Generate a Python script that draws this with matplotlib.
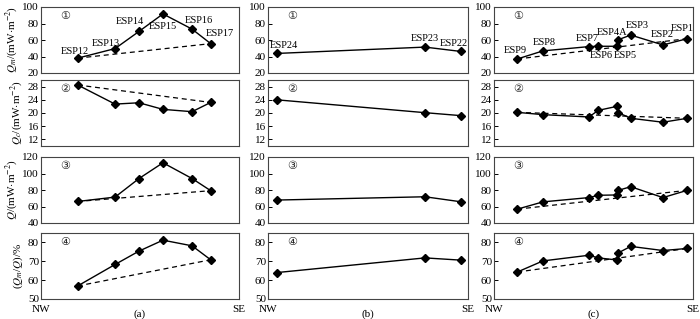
import matplotlib
matplotlib.use("Agg")
import matplotlib.pyplot as plt

plt.rcParams["font.family"] = ["Liberation Serif", "DejaVu Serif", "DejaVu Sans"]
plt.rcParams["mathtext.fontset"] = "stix"

# distance along profile (0 = NW, 100 = SE)
names_a = ["ESP12", "ESP13", "ESP14", "ESP15", "ESP16", "ESP17"]
x_a = [18.5, 37.4, 49.5, 61.6, 76.3, 85.7]
qm_a = [38, 49.6, 70.4, 91.6, 73.2, 55.6]
qc_a = [28.5, 22.7, 23.1, 21.1, 20.4, 23.2]
q_a = [66.1, 71.4, 93.9, 113, 93.9, 79.2]
ratio_a = [56.9, 68.3, 75.4, 81.2, 78.2, 70.8]

names_b = ["ESP24", "ESP23", "ESP22"]
x_b = [4.3, 78.5, 96.5]
qm_b = [43.7, 51.4, 46.1]
qc_b = [24.0, 20.1, 19.2]
q_b = [67.8, 71.8, 65.7]
ratio_b = [64.0, 71.8, 70.6]

names_c = ["ESP9", "ESP8", "ESP7", "ESP6", "ESP5", "ESP4A", "ESP3", "ESP2", "ESP1"]
x_c = [11.7, 24.6, 47.7, 52.4, 61.7, 62.5, 68.7, 84.9, 97.1]
qm_c = [37, 46.8, 52, 52.4, 52.4, 60.4, 66, 54, 61.6]
qc_c = [20.2, 19.5, 18.8, 20.8, 22.0, 20.1, 18.4, 17.2, 18.4]
q_c = [56.8, 65.6, 70.8, 73.6, 74.0, 79.6, 84, 70.8, 79.6]
ratio_c = [64.3, 70.2, 73.2, 71.8, 70.7, 74.5, 77.9, 75.7, 76.8]

# label offsets in pixels (dx, dy) for row 1 station names
off_a = [(-3, 7), (-9, 5), (-9, 10), (0, -12.5), (7, 9), (9, 10.5)]
off_b = [(7, 8), (0, 9), (-7, 8)]
off_c = [(-2, 8.5), (1, 8), (-2, 8.5), (3.5, -9.5), (8.5, -9.5), (-6, 7), (6.5, 10), (-1, 10), (-5, 9.7)]

ylabels = [r"$Q_m$/(mW$\cdot$m$^{-2}$)", r"$Q_c$/(mW$\cdot$m$^{-2}$)",
           r"$Q$/(mW$\cdot$m$^{-2}$)", r"($Q_m$/$Q$)/%"]
ylims = [(20, 100), (10, 30), (40, 120), (50, 85)]
yticks = [[20, 40, 60, 80, 100], [12, 16, 20, 24, 28], [40, 60, 80, 100, 120], [50, 60, 70, 80]]
circled = ["①", "②", "③", "④"]

columns = [
    (names_a, x_a, [qm_a, qc_a, q_a, ratio_a], off_a, True, "(a)"),
    (names_b, x_b, [qm_b, qc_b, q_b, ratio_b], off_b, False, "(b)"),
    (names_c, x_c, [qm_c, qc_c, q_c, ratio_c], off_c, True, "(c)"),
]

W, H = 700, 319
fig = plt.figure(figsize=(W / 100, H / 100), dpi=100)

col_left = [41, 268, 494]
col_width = [198, 200, 199]
row_top = [7, 80, 157, 233]
row_h = 66
px = 0.72  # points per pixel at dpi 100

for ci, (names, xs, series, offs, trend, tag) in enumerate(columns):
    for ri in range(4):
        rect = [col_left[ci] / W, 1 - (row_top[ri] + row_h) / H, col_width[ci] / W, row_h / H]
        ax = fig.add_axes(rect)
        ys = series[ri]
        if trend:
            ax.plot([xs[0], xs[-1]], [ys[0], ys[-1]], color="black", lw=0.9, ls=(0, (4, 3)))
        ax.plot(xs, ys, color="black", lw=1.0, marker="D", ms=4.5, mfc="black", mec="black")
        ax.set_xlim(0, 100)
        ax.set_ylim(*ylims[ri])
        ax.set_yticks(yticks[ri])
        ax.tick_params(axis="y", direction="in", length=3, width=0.7, labelsize=8, pad=1.5)
        for s in ax.spines.values():
            s.set_color("#444444")
            s.set_linewidth(0.8)
        ax.text(0.12, 0.87, circled[ri], transform=ax.transAxes, ha="center", va="center",
                fontsize=8, family=["DejaVu Sans"], color="#222222")
        if ri == 3:
            ax.set_xticks([0, 100])
            ax.set_xticklabels(["NW", "SE"], fontsize=8)
            ax.tick_params(axis="x", length=0, pad=4)
            ax.text(0.5, -0.23, tag, transform=ax.transAxes, ha="center", va="center", fontsize=8)
        else:
            ax.set_xticks([])
        if ci == 0:
            ax.set_ylabel(ylabels[ri], fontsize=8, labelpad=2)
        if ri == 0:
            for name, x, y, (dx, dy) in zip(names, xs, ys, offs):
                ax.annotate(name, (x, y), xytext=(dx * px, dy * px), textcoords="offset points",
                            ha="center", va="center", fontsize=7.5)

fig.savefig("out.png", dpi=100)
